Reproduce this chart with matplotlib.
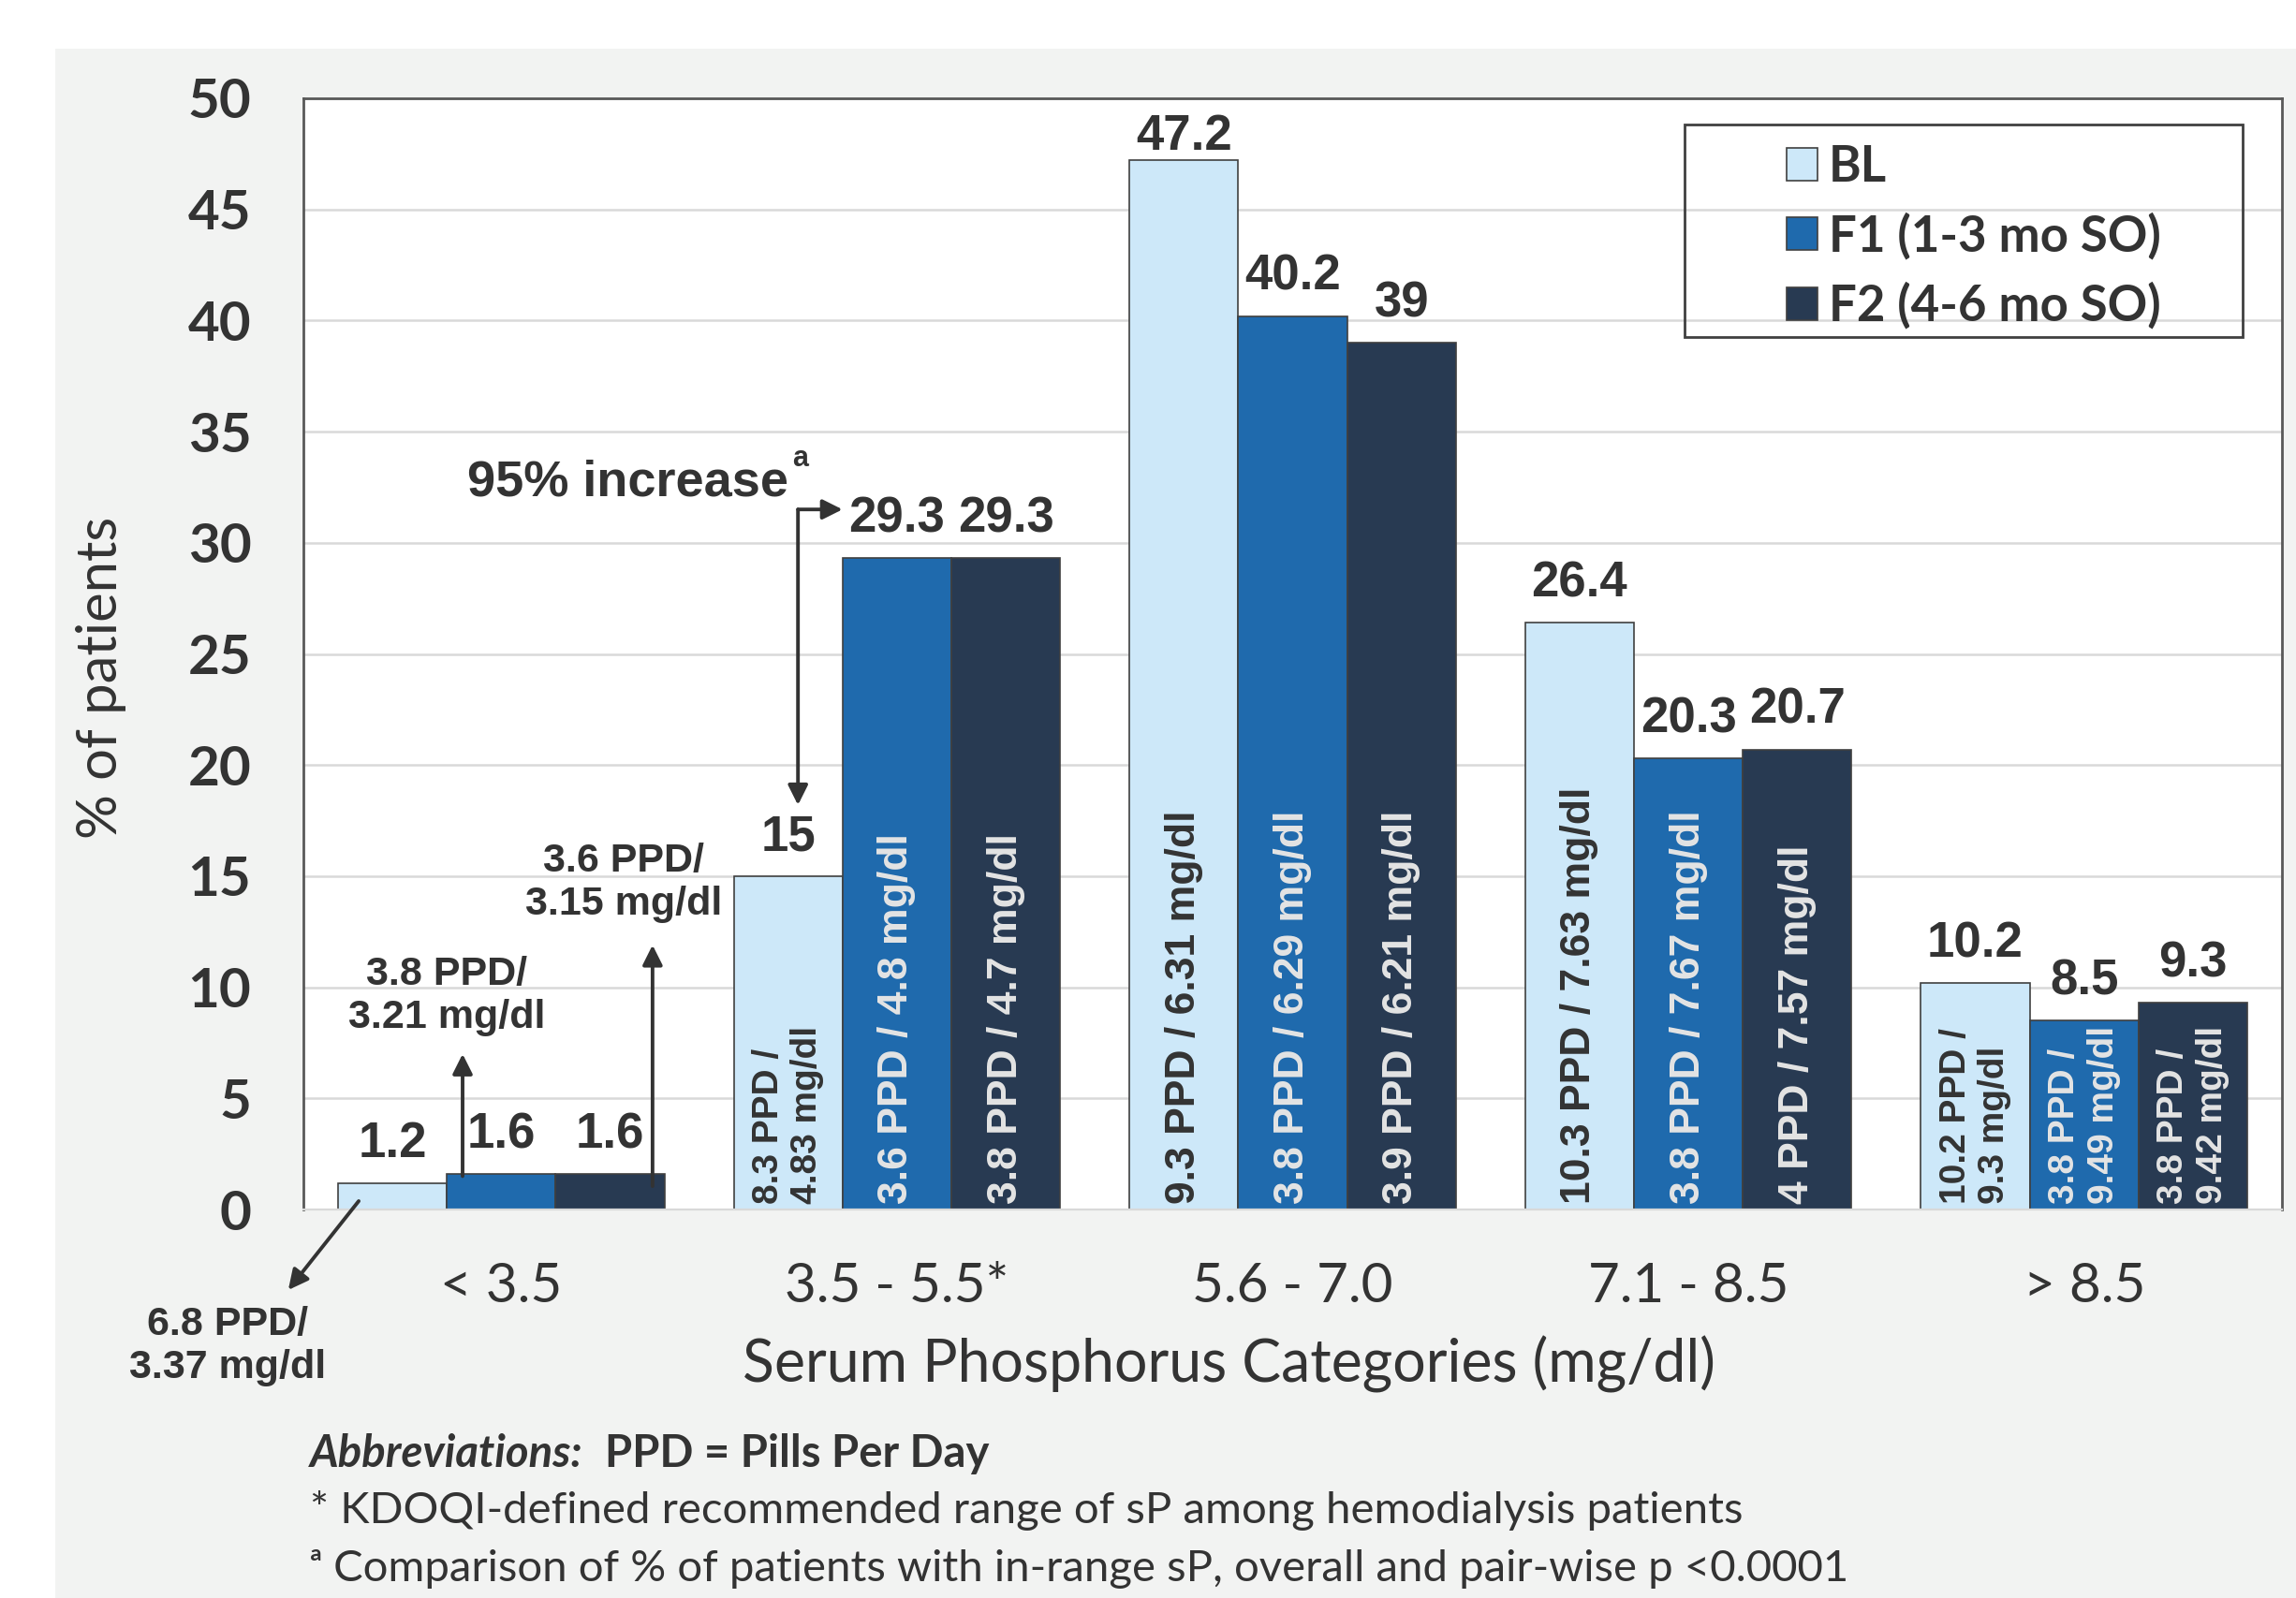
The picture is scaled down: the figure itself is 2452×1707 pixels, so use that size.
import numpy as np
import matplotlib.pyplot as plt
from matplotlib.patches import Rectangle

# data
categories = ["< 3.5", "3.5 - 5.5*", "5.6 - 7.0", "7.1 - 8.5", "> 8.5"]
series_names = ["BL", "F1 (1-3 mo SO)", "F2 (4-6 mo SO)"]
bl = [1.2, 15, 47.2, 26.4, 10.2]
f1 = [1.6, 29.3, 40.2, 20.3, 8.5]
f2 = [1.6, 29.3, 39, 20.7, 9.3]

bl_notes = ["", "8.3 PPD /\n4.83 mg/dl", "9.3 PPD / 6.31 mg/dl",
            "10.3 PPD / 7.63 mg/dl", "10.2 PPD /\n9.3 mg/dl"]
f1_notes = ["", "3.6 PPD / 4.8 mg/dl", "3.8 PPD / 6.29 mg/dl",
            "3.8 PPD / 7.67 mg/dl", "3.8 PPD /\n9.49 mg/dl"]
f2_notes = ["", "3.8 PPD / 4.7 mg/dl", "3.9 PPD / 6.21 mg/dl",
            "4 PPD / 7.57 mg/dl", "3.8 PPD /\n9.42 mg/dl"]

colors = ["#cde8f9", "#1f6aad", "#283a52"]
note_colors = ["#333333", "#e4e4e4", "#e4e4e4"]
TXT = "#333333"
CAL = "Lato"              # stand-in for Calibri
ARI = "Liberation Sans"   # stand-in for Arial


def main():
    fig = plt.figure(figsize=(12.26, 8.535), dpi=200)
    fig.add_artist(Rectangle((0.024, 0), 0.976, 0.9695, transform=fig.transFigure,
                             facecolor="#f2f3f2", edgecolor="none", zorder=-10))
    ax = fig.add_axes([0.1321, 0.2431, 0.8618, 0.6954])

    x = np.arange(len(categories))
    w = 0.275
    offsets = [-w, 0, w]
    for vals, notes, off, c, nc, name in zip([bl, f1, f2], [bl_notes, f1_notes, f2_notes],
                                           offsets, colors, note_colors, series_names):
        ax.bar(x + off, vals, w, color=c, edgecolor="#404040", linewidth=0.6,
               label=name, zorder=2)
        for xi, v, note in zip(x + off, vals, notes):
            ax.annotate("%g" % v, xy=(xi, v), xytext=(0, 6 if v < 45 else 0),
                        textcoords="offset points", ha="center", va="bottom",
                        fontsize=19, family=ARI, weight="bold", color=TXT)
            if note:
                fs = 16 if "\n" not in note else 14
                ax.annotate(note, xy=(xi, 0), xytext=(0, 2), textcoords="offset points",
                            rotation=90, ha="center", va="bottom", multialignment="left",
                            fontsize=fs, family=ARI, weight="bold", color=nc, zorder=3)

    ax.set_xlim(-0.5, 4.5)
    ax.set_ylim(0, 50)
    ax.set_yticks(range(0, 51, 5))
    ax.set_xticks(x)
    ax.set_xticklabels(categories, fontsize=21, family=CAL, color=TXT)
    for lab in ax.get_yticklabels():
        lab.set_fontsize(21)
        lab.set_family(CAL)
        lab.set_weight("bold")
        lab.set_color(TXT)
    ax.tick_params(axis="both", length=0)
    ax.tick_params(axis="y", pad=20)
    ax.tick_params(axis="x", pad=20)
    ax.yaxis.grid(True, color="#d9d9d9", lw=0.9)
    ax.set_axisbelow(True)
    for s in ["left", "top", "right"]:
        ax.spines[s].set_color("#595959")
        ax.spines[s].set_linewidth(1.0)
    ax.spines["bottom"].set_color("#d9d9d9")

    ax.set_ylabel("% of patients", fontsize=21.5, family=CAL, color=TXT)
    ax.yaxis.label.set_va("center")
    ax.yaxis.set_label_coords(-0.102, 0.479)
    ax.set_xlabel("Serum Phosphorus Categories (mg/dl)", fontsize=22.5, family=CAL, color=TXT)
    ax.xaxis.label.set_va("center")
    ax.xaxis.set_label_coords(0.468, -0.139)

    # legend, with a transparent frame drawn by hand
    ax.legend(loc="upper left", bbox_to_anchor=(0.737, 0.981), frameon=False, borderpad=0,
              prop=dict(family=CAL, weight="bold", size=19), handlelength=0.64,
              handleheight=0.64, handletextpad=0.22, labelspacing=0.45, labelcolor=TXT)
    ax.add_patch(Rectangle((0.698, 0.785), 0.282, 0.191, transform=ax.transAxes,
                           fill=False, edgecolor="#404040", lw=1.0, zorder=5))

    arrow = dict(arrowstyle="-|>", color=TXT, lw=1.4, mutation_scale=16,
                 shrinkA=0, shrinkB=0)

    # 95% increase elbow arrow
    xc = x[1] - w + 0.025
    ax.text(x[1] - w, 32.7, "95% increase", ha="right", va="center",
            fontsize=19.5, family=ARI, weight="bold", color=TXT)
    ax.text(x[1] - w + 0.01, 33.8, "a", ha="left", va="center",
            fontsize=11, family=ARI, weight="bold", color=TXT)
    ax.annotate("", xy=(xc, 18.2), xytext=(xc, 31.5), arrowprops=arrow)
    ax.annotate("", xy=(x[1] - w / 2, 31.5), xytext=(xc, 31.5), arrowprops=arrow)

    # notes for the lowest category
    xa = x[0] - w / 2 + 0.04
    ax.annotate("", xy=(xa, 7.0), xytext=(xa, 1.5), arrowprops=arrow)
    ax.text(-0.137, 9.6, "3.8 PPD/\n3.21 mg/dl", ha="center", va="center",
            fontsize=15.5, family=ARI, weight="bold", color=TXT)
    xb = x[0] + 1.5 * w - 0.03
    ax.annotate("", xy=(xb, 11.9), xytext=(xb, 1.05), arrowprops=arrow)
    ax.text(0.31, 14.7, "3.6 PPD/\n3.15 mg/dl", ha="center", va="center",
            fontsize=15.5, family=ARI, weight="bold", color=TXT)
    ax.annotate("", xy=(-0.538, -3.62), xytext=(-0.36, 0.38), arrowprops=arrow,
                annotation_clip=False)
    ax.text(-0.692, -6.15, "6.8 PPD/\n3.37 mg/dl", ha="center", va="center",
            fontsize=15.5, family=ARI, weight="bold", color=TXT, clip_on=False)

    # footnotes
    t1 = fig.text(0.135, 0.0902, "Abbreviations:", fontsize=17, family=CAL,
                  weight="bold", style="italic", color=TXT, va="center")
    ax.annotate("  PPD = Pills Per Day", xy=(1, 0.5), xycoords=t1, va="center",
                ha="left", fontsize=17, family=CAL, weight="bold", color=TXT,
                annotation_clip=False)
    fig.text(0.135, 0.0545, "* KDOQI-defined recommended range of sP among hemodialysis patients",
             fontsize=17, family=CAL, color=TXT, va="center")
    fig.text(0.135, 0.0182,
             "\u1d43 Comparison of % of patients with in-range sP, overall and pair-wise p <0.0001",
             fontsize=17, family=[CAL, "DejaVu Sans"], color=TXT, va="center")

    plt.savefig("out.png", dpi=200)


if __name__ == "__main__":
    main()
